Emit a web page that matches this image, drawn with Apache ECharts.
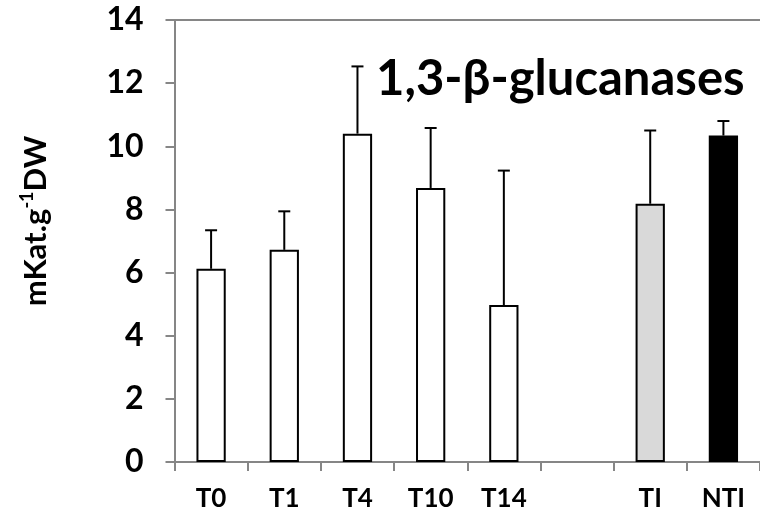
<!DOCTYPE html>
<html>
<head>
<meta charset="utf-8" />
<script src="https://cdn.jsdelivr.net/npm/echarts@6/dist/echarts.min.js"></script>
<title>1,3-beta-glucanases</title>
<style>
  html, body { margin: 0; padding: 0; background: #fff; }
</style>
</head>
<body>
<div id="main" style="width:760px;height:512px;"></div>
<script type="text/javascript">
// data
var categories = ['T0', 'T1', 'T4', 'T10', 'T14', '', 'TI', 'NTI'];
var means = [6.12, 6.72, 10.40, 8.68, 4.97, null, 8.18, 10.34];
var errors = [1.22, 1.22, 2.13, 1.90, 4.26, null, 2.32, 0.46];
var barColors = ['#ffffff', '#ffffff', '#ffffff', '#ffffff', '#ffffff', '#ffffff', '#d9d9d9', '#000000'];
var yTicks = [0, 2, 4, 6, 8, 10, 12, 14];

var myChart = echarts.init(document.getElementById('main'));
var font = 'Lato';
var axisGrey = '#868686';

var barData = [];
var errData = [];
for (var i = 0; i < categories.length; i++) {
    if (means[i] == null) {
        barData.push('-');
        continue;
    }
    barData.push({ value: means[i], itemStyle: { color: barColors[i] } });
    errData.push([i, means[i], means[i] + errors[i]]);
}

var option = {
    backgroundColor: '#fff',
    animation: false,
    title: {
        text: '1,3-\u03b2-glucanases',
        left: 371,
        top: 50,
        textStyle: { fontFamily: font, fontWeight: 'bold', fontSize: 49, color: '#000' }
    },
    grid: { left: 174.5, right: -3, top: 20, bottom: 50 },
    xAxis: [
        {
            type: 'category',
            data: categories,
            axisLine: { lineStyle: { color: axisGrey, width: 2 } },
            axisTick: { show: true, length: 9, lineStyle: { color: axisGrey, width: 2 } },
            axisLabel: { margin: 24, fontFamily: font, fontWeight: 'bold', fontSize: 26, color: '#000', interval: 0 }
        },
        {
            type: 'category',
            position: 'top',
            data: categories,
            axisLine: { lineStyle: { color: axisGrey, width: 2 } },
            axisTick: { show: false },
            axisLabel: { show: false }
        }
    ],
    yAxis: {
        type: 'value',
        min: yTicks[0],
        max: yTicks[yTicks.length - 1],
        interval: 2,
        name: '{a|mKat.g}{s|-1}{a|DW}',
        nameLocation: 'middle',
        nameRotate: 90,
        nameGap: 122,
        nameTextStyle: {
            padding: [0, 0, 0, 40],
            rich: {
                a: { fontFamily: font, fontWeight: 'bold', fontSize: 31, color: '#000' },
                s: { fontFamily: font, fontWeight: 'bold', fontSize: 18, color: '#000', padding: [0, 0, 16, 0] }
            }
        },
        axisLine: { show: true, lineStyle: { color: axisGrey, width: 2 } },
        axisTick: { show: true, length: 9, lineStyle: { color: axisGrey, width: 2 } },
        splitLine: { show: false },
        axisLabel: { margin: 31, fontFamily: font, fontWeight: 'bold', fontSize: 32, color: '#000' }
    },
    series: [
        {
            type: 'bar',
            barWidth: '40%',
            data: barData,
            itemStyle: { borderColor: '#000', borderWidth: 2 }
        },
        {
            type: 'custom',
            data: errData,
            z: 1,
            renderItem: function (params, api) {
                var x = api.value(0);
                var lo = api.coord([x, api.value(1)]);
                var hi = api.coord([x, api.value(2)]);
                var half = 6;
                return {
                    type: 'group',
                    children: [
                        { type: 'line', shape: { x1: lo[0], y1: lo[1], x2: hi[0], y2: hi[1] }, style: { stroke: '#000', lineWidth: 2 } },
                        { type: 'line', shape: { x1: hi[0] - half, y1: hi[1], x2: hi[0] + half, y2: hi[1] }, style: { stroke: '#000', lineWidth: 2 } }
                    ]
                };
            }
        }
    ]
};
myChart.setOption(option);
</script>
</body>
</html>
